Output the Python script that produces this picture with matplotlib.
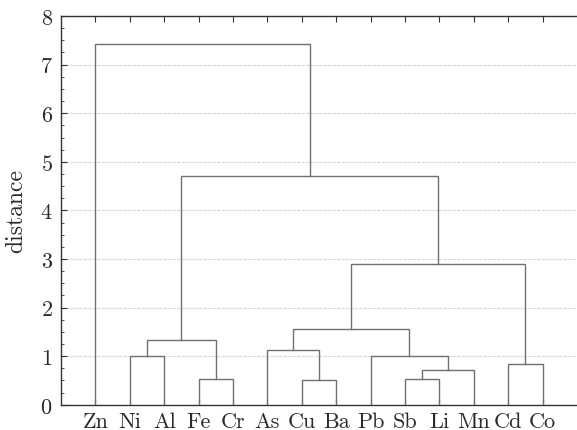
import matplotlib
matplotlib.use("Agg")
import matplotlib.pyplot as plt
from matplotlib.ticker import MultipleLocator

plt.rcParams['font.family'] = ['cmr10', 'DejaVu Serif']
plt.rcParams['axes.formatter.use_mathtext'] = True
plt.rcParams['mathtext.fontset'] = 'cm'

leaves = ['Zn', 'Ni', 'Al', 'Fe', 'Cr', 'As', 'Cu', 'Ba', 'Pb', 'Sb', 'Li', 'Mn', 'Cd', 'Co']
# linkage: (left child, right child, height); indices >= len(leaves) refer to earlier merges
merge_left = [6, 3, 9, 16, 12, 1, 8, 5, 19, 21, 23, 22, 0]
merge_right = [7, 4, 10, 11, 13, 2, 17, 14, 15, 20, 18, 24, 25]
merge_height = [0.51, 0.53, 0.53, 0.71, 0.83, 1.00, 1.01, 1.13, 1.34, 1.56, 2.90, 4.71, 7.42]
yticks = [0, 1, 2, 3, 4, 5, 6, 7, 8]

fig = plt.figure(figsize=(5.77, 4.31), dpi=100)
ax = fig.add_axes([0.1057, 0.0585, 0.8943, 0.902])

n = len(leaves)
xpos = {i: i + 1 for i in range(n)}
ypos = {i: 0.0 for i in range(n)}
col = '#707070'
for k, (a, b, h) in enumerate(zip(merge_left, merge_right, merge_height)):
    xa, xb = xpos[a], xpos[b]
    ax.plot([xa, xa, xb, xb], [ypos[a], h, h, ypos[b]], color=col, lw=1.0,
            solid_joinstyle='miter', zorder=3)
    xpos[n + k] = (xa + xb) / 2
    ypos[n + k] = h

ax.set_xlim(0, n + 1)
ax.set_ylim(0, 8)
ax.set_xticks(range(1, n + 1))
ax.set_xticklabels(leaves)
ax.set_yticks(yticks)
ax.yaxis.set_minor_locator(MultipleLocator(0.25))
ax.tick_params(axis='both', which='both', direction='in', labelsize=16, colors='#333333')
ax.tick_params(axis='x', top=True, length=4, pad=5)
ax.tick_params(axis='y', which='major', length=4, pad=6)
ax.tick_params(axis='y', which='minor', length=2)
for lab in ax.get_xticklabels() + ax.get_yticklabels():
    lab.set_color('#2a2a2a')
ax.set_ylabel('distance', fontsize=17, color='#2a2a2a', labelpad=9)
ax.grid(axis='y', color='#d9d9d9', lw=0.8, linestyle=(0, (3, 1)))
ax.set_axisbelow(True)
for s in ['left', 'bottom', 'top']:
    ax.spines[s].set_color('#333333')
    ax.spines[s].set_linewidth(1.0)
ax.spines['right'].set_visible(False)

fig.savefig('out.png', dpi=100)
